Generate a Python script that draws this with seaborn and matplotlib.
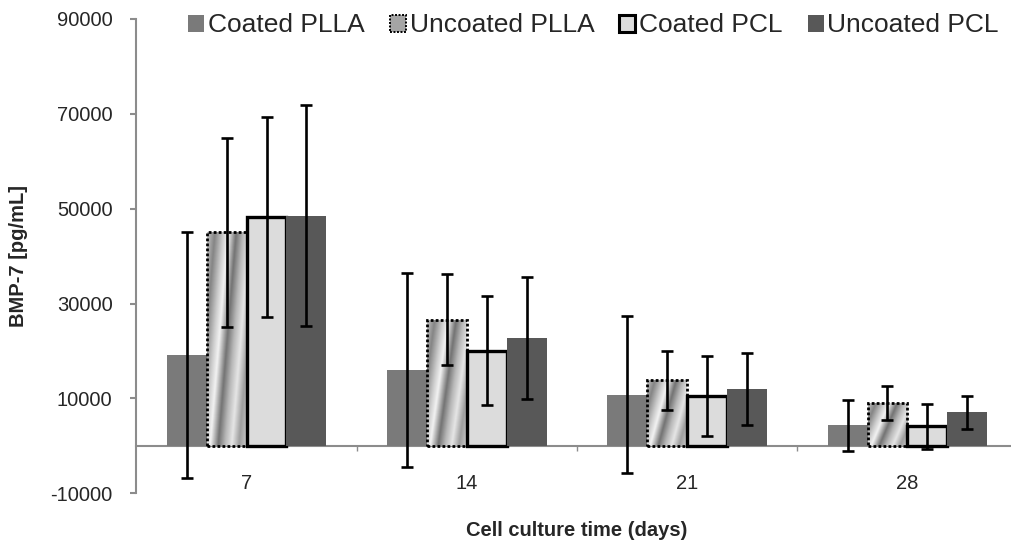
import numpy as np
import pandas as pd
import matplotlib
matplotlib.use("Agg")
import matplotlib.pyplot as plt
from matplotlib.patches import Patch
from matplotlib.ticker import FixedLocator
import seaborn as sns

# BMP-7 release (pg/mL) per scaffold type and culture day, mean and error
days = ["7", "14", "21", "28"]
groups = ["Coated PLLA", "Uncoated PLLA", "Coated PCL", "Uncoated PCL"]

coated_plla_mean = [19100, 16000, 10800, 4300]
coated_plla_err = [25900, 20500, 16500, 5300]
uncoated_plla_mean = [45000, 26600, 13800, 9000]
uncoated_plla_err = [20000, 9600, 6200, 3600]
coated_pcl_mean = [48300, 20100, 10500, 4100]
coated_pcl_err = [21100, 11400, 8500, 4700]
uncoated_pcl_mean = [48500, 22700, 12000, 7100]
uncoated_pcl_err = [23300, 12800, 7500, 3500]

y_ticks = [-10000, 10000, 30000, 50000, 70000, 90000]

means = [coated_plla_mean, uncoated_plla_mean, coated_pcl_mean, uncoated_pcl_mean]
errs = [coated_plla_err, uncoated_plla_err, coated_pcl_err, uncoated_pcl_err]

df = pd.DataFrame({
    "day": [d for _ in groups for d in days],
    "group": [g for g in groups for _ in days],
    "value": [v for m in means for v in m],
})

sns.set_style("white")
plt.rcParams["font.family"] = ["Liberation Sans", "DejaVu Sans"]

palette = {
    "Coated PLLA": "#7a7a7a",
    "Uncoated PLLA": "#b5b5b5",
    "Coated PCL": "#dcdcdc",
    "Uncoated PCL": "#585858",
}

fig = plt.figure(figsize=(10.12, 5.42), dpi=100)
ax = fig.add_axes([136.5 / 1012, 1 - 493.3 / 542, 881 / 1012, (493.3 - 19) / 542])

sns.barplot(data=df, x="day", y="value", hue="group", order=days,
            hue_order=groups, palette=palette, errorbar=None,
            width=0.724, gap=0, saturation=1, legend=False, ax=ax)

for c in ax.containers:
    for bar in c:
        bar.set_edgecolor("none")
        bar.set_linewidth(0)
        bar.set_zorder(2)

# Coated PCL: light fill with a heavy black outline
for bar in ax.containers[2]:
    bar.set_edgecolor("black")
    bar.set_linewidth(2.4)

# Uncoated PLLA: metallic diagonal sheen with a dotted outline
stops_u = [-0.45, -0.25, -0.05, 0.08, 0.28, 0.45, 0.62, 0.8, 1.0]
stops_v = [0.78, 0.52, 0.80, 0.95, 0.45, 0.72, 0.90, 0.62, 0.80]
ny, nx = 200, 80
gx, gy = np.meshgrid((np.arange(nx) + 0.5) / nx, (np.arange(ny) + 0.5) / ny)
sheen = np.interp(gx - 0.45 * gy, stops_u, stops_v)
for bar in ax.containers[1]:
    x0, w, h = bar.get_x(), bar.get_width(), bar.get_height()
    im = ax.imshow(sheen, extent=[x0, x0 + w, 0, h], origin="lower",
                   cmap="gray", vmin=0, vmax=1, aspect="auto",
                   interpolation="bilinear", zorder=1.9)
    im.set_clip_path(bar)
    bar.set_facecolor("none")
    bar.set_edgecolor("black")
    bar.set_linewidth(2.0)
    bar.set_linestyle((0, (1, 0.8)))

# Error bars centred on each bar
for c, m, e in zip(ax.containers, means, errs):
    centers = [b.get_x() + b.get_width() / 2 for b in c]
    ax.errorbar(centers, m, yerr=e, fmt="none", ecolor="black",
                elinewidth=1.9, capsize=4.6, capthick=1.9, zorder=5)

ax.set_xlim(-0.5, 3.5)
ax.set_ylim(-10000, 90000)
ax.set_yticks(y_ticks)
ax.set_yticklabels([str(t) for t in y_ticks])

sns.despine(ax=ax, top=True, right=True)
grey = "#8c8c8c"
ax.spines["left"].set_color(grey)
ax.spines["left"].set_linewidth(1.5)
ax.spines["bottom"].set_position(("data", 0))
ax.spines["bottom"].set_color(grey)
ax.spines["bottom"].set_linewidth(1.5)
ax.spines["bottom"].set_zorder(1)

ax.tick_params(axis="y", direction="out", length=4.3, width=1.5, color=grey,
               pad=13, labelsize=14.5, left=True)
ax.tick_params(axis="x", which="major", length=0, pad=20, labelsize=14.5)
ax.xaxis.set_minor_locator(FixedLocator([0.5, 1.5, 2.5]))
ax.tick_params(axis="x", which="minor", direction="out", length=3.6,
               width=1, color=grey, bottom=True)

ax.set_xlabel("Cell culture time (days)", fontsize=14.5, fontweight="bold")
ax.xaxis.set_label_coords(0.5, -0.059)
ax.xaxis.label.set_va("top")
ax.set_ylabel("BMP-7 [pg/mL]", fontsize=14.5, fontweight="bold")
ax.yaxis.set_label_coords(-0.1345, 0.5)
ax.yaxis.label.set_va("center")
ax.grid(False)

handles = [
    Patch(facecolor=palette["Coated PLLA"], edgecolor="none"),
    Patch(facecolor="#a5a5a5", edgecolor="black", linewidth=1.4,
          linestyle=(0, (1, 0.8))),
    Patch(facecolor=palette["Coated PCL"], edgecolor="black", linewidth=2.2),
    Patch(facecolor=palette["Uncoated PCL"], edgecolor="none"),
]
fig.legend(handles, groups, loc="center right",
           bbox_to_anchor=(999 / 1012, 1 - 25.5 / 542), ncol=4,
           frameon=False, fontsize=19, handlelength=0.6, handleheight=0.6,
           handletextpad=0.15, columnspacing=0.95, borderaxespad=0,
           borderpad=0)

fig.savefig("out.png", dpi=100)
